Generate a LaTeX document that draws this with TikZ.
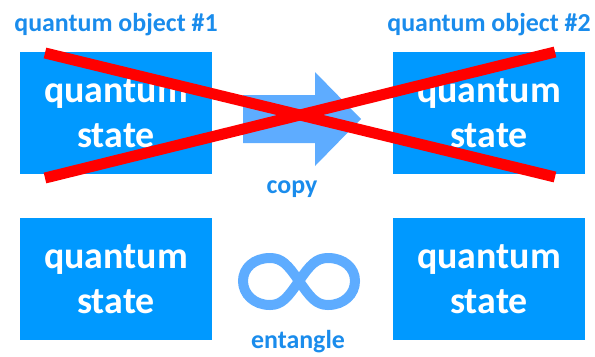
\documentclass[tikz,border=0pt]{standalone}
\usepackage{fontspec}
\setmainfont{Carlito}
\usepackage{tikz}
\usetikzlibrary{positioning}
\definecolor{qblue}{HTML}{0099FF}
\definecolor{qlight}{HTML}{5EACFF}
\definecolor{qlabel}{HTML}{1A8CEC}
\definecolor{qred}{HTML}{FF0000}
\tikzset{
  qstate/.style={
    fill=qblue, minimum width=192bp, minimum height=122bp, inner sep=0pt,
    outer sep=0pt, align=center, text=white,
    font=\bfseries\fontsize{38}{45}\selectfont
  },
  qlbl/.style={text=qlabel, inner sep=0pt, font=\bfseries\fontsize{26}{31}\selectfont},
  cross/.style={draw=qred, line width=11bp},
}

\begin{document}
\begin{tikzpicture}[x=1bp, y=-1bp, node distance=44bp and 181bp]
    \useasboundingbox (0,0) rectangle (595,356);
    \node[qstate] (s1) at (116,113) {quantum\\state};
    \node[qstate, right=of s1] (s2) {quantum\\state};
    \node[qstate, below=of s1] (s3) {quantum\\state};
    \node[qstate, right=of s3] (s4) {quantum\\state};
    \node[qlbl, above=16bp of s1] (obj1) {quantum object \#1};
    \node[qlbl, above=16bp of s2] (obj2) {quantum object \#2};
    % copy arrow
    \fill[qlight] (243,95) -- (315,95) -- (315,72) -- (361,119)
      -- (315,166) -- (315,143) -- (243,143) -- cycle;
    \node[qlbl, anchor=base] (copy) at (292,193) {copy};
    % entangle loop
    \draw[qlight, line width=10bp]
      (299,281) .. controls (310,265) and (316,258) .. (328,258)
      .. controls (344,258) and (355,268) .. (355,281)
      .. controls (355,294) and (344,305) .. (328,305)
      .. controls (316,305) and (310,297) .. (299,281)
      .. controls (288,265) and (282,258) .. (270,258)
      .. controls (254,258) and (243,268) .. (243,281)
      .. controls (243,294) and (254,305) .. (270,305)
      .. controls (282,305) and (288,297) .. (299,281) -- cycle;
    \node[qlbl, anchor=base] (ent) at (298,348) {entangle};
    % no cloning
    \draw[cross] (45,53) -- (555,177);
    \draw[cross] (45,178) -- (555,52);
  \end{tikzpicture}
\end{document}
